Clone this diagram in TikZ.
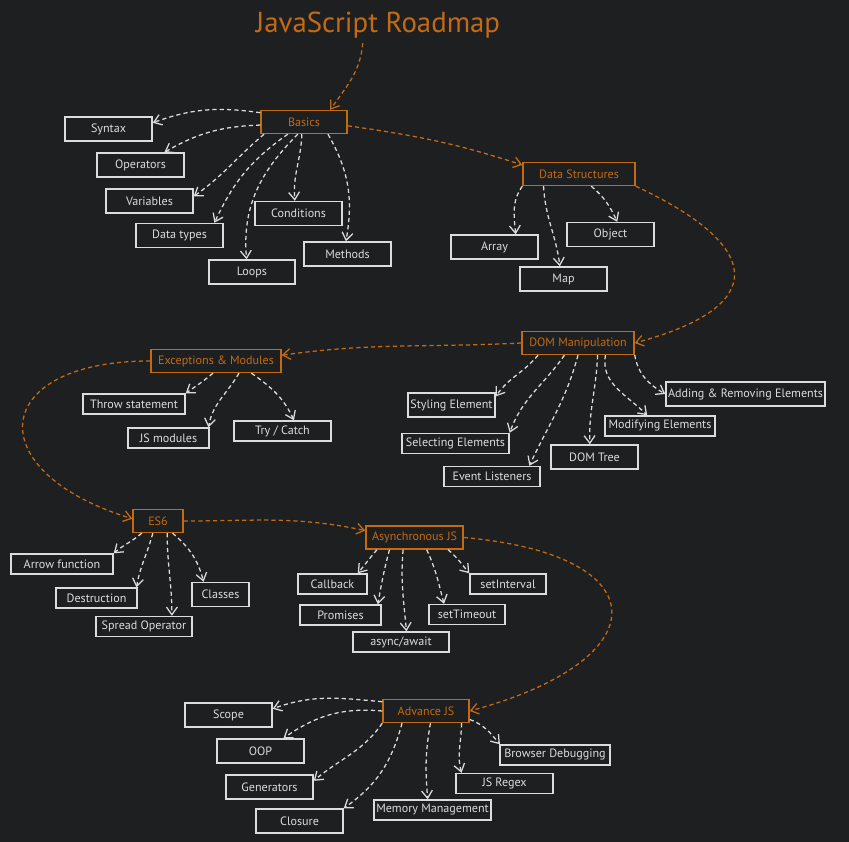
\documentclass[tikz,border=0pt]{standalone}
\usepackage{fontspec}
\setmainfont{PT Sans}
\usetikzlibrary{arrows.meta}
\definecolor{board}{HTML}{1E1F21}
\definecolor{amber}{HTML}{C46A12}
\definecolor{chalk}{HTML}{DCDCDC}

\begin{document}
\begin{tikzpicture}[x=0.025cm, y=0.025cm,
    topicbox/.style={draw=amber, text=amber, line width=1pt, minimum width=#1*0.025cm, minimum height=0.575cm, inner sep=1pt, font=\fontsize{8.6}{10}\selectfont},
    topicbox/.default=86,
    leafbox/.style={draw=chalk, text=chalk, line width=1pt, minimum width=#1*0.025cm, minimum height=0.6cm, inner sep=1pt, font=\fontsize{8.6}{10}\selectfont},
    leafbox/.default=87,
    tagbox/.style={leafbox=#1, minimum height=0.5cm},
    branch/.style={draw=chalk, line width=0.9pt, dash pattern=on 3pt off 2.2pt, -{Straight Barb[length=1.9mm,width=2.7mm]}},
    trunk/.style={branch, draw=amber}]
        % bakgrunnur
        \useasboundingbox (0,0) rectangle (849,842);
        \fill[board] (0,0) rectangle (849,842);
        % titill
        \node[text=amber, font=\fontsize{20.5}{24}\selectfont] (title) at (378,817) {JavaScript Roadmap};
        % basics
        \node[topicbox] (basics) at (304,720) {Basics};
        \node[leafbox] (syntax) at (108.5,713) {Syntax};
        \node[leafbox] (operators) at (140.5,677) {Operators};
        \node[leafbox] (variables) at (149.5,641) {Variables};
        \node[leafbox] (datatypes) at (179.5,606.5) {Data types};
        \node[leafbox=86] (loops) at (252,570) {Loops};
        \node[leafbox] (conditions) at (298.5,628.5) {Conditions};
        \node[leafbox] (methods) at (347.5,588) {Methods};
        % data structures
        \node[topicbox=112] (datastruct) at (579,668) {Data Structures};
        \node[leafbox] (array) at (494.5,595) {Array};
        \node[leafbox] (object) at (610.5,607.5) {Object};
        \node[leafbox] (map) at (563.5,563) {Map};
        % dom
        \node[topicbox=112] (dom) at (578,499) {DOM Manipulation};
        \node[leafbox] (styling) at (451.5,437) {Styling Element};
        \node[tagbox=107] (selecting) at (455.5,398.5) {Selecting Elements};
        \node[tagbox=96] (listeners) at (492,365.5) {Event Listeners};
        \node[leafbox] (domtree) at (594.5,385) {DOM Tree};
        \node[tagbox=110] (modifying) at (660,416) {Modifying Elements};
        \node[leafbox=159] (adding) at (745.5,448) {Adding \& Removing Elements};
        % exceptions
        \node[topicbox=130] (exceptions) at (216,481) {Exceptions \& Modules};
        \node[tagbox=102] (throw) at (134,438) {Throw statement};
        \node[tagbox=81] (modules) at (168.5,404) {JS modules};
        \node[tagbox=97] (trycatch) at (282.5,411) {Try / Catch};
        % es6
        \node[topicbox=50] (es6) at (158,321) {ES6};
        \node[tagbox=102] (arrowfn) at (62,278) {Arrow function};
        \node[tagbox=81] (destruct) at (96.5,244) {Destruction};
        \node[tagbox=96] (spread) at (144,215.5) {Spread Operator};
        \node[leafbox=57] (classes) at (220.5,247.5) {Classes};
        % async
        \node[topicbox=97] (async) at (414.5,304.5) {Asynchronous JS};
        \node[tagbox=69] (callback) at (332.5,258) {Callback};
        \node[tagbox=81] (promises) at (340.5,227) {Promises};
        \node[tagbox=96] (asyncawait) at (401,200) {async/await};
        \node[tagbox=76] (settimeout) at (467,227.5) {setTimeout};
        \node[tagbox=76] (setinterval) at (508,258) {setInterval};
        % advance
        \node[topicbox] (advance) at (426,131) {Advance JS};
        \node[leafbox] (scope) at (228.5,127) {Scope};
        \node[leafbox] (oop) at (260.5,91) {OOP};
        \node[leafbox] (generators) at (269.5,55) {Generators};
        \node[leafbox] (closure) at (299.5,21) {Closure};
        \node[tagbox=117] (memory) at (432.5,32) {Memory Management};
        \node[tagbox=97] (regex) at (504.5,58.5) {JS Regex};
        \node[tagbox=110] (browser) at (555,87) {Browser Debugging};
        % leidin
        \draw[trunk] ([xshift=-0.38cm]title.south) to[out=-95, in=55] (basics.25);
        \draw[trunk] (basics.-5) to[out=-8, in=162] (datastruct.171);
        \draw[trunk] (datastruct.south east) to[out=-25, in=15, looseness=2.3] (dom.east);
        \draw[trunk] (dom.west) to[out=183, in=8] (exceptions.5);
        \draw[trunk] (exceptions.west) to[out=180, in=163, looseness=2.6] (es6.175);
        \draw[trunk] (es6.east) to[out=0, in=168] (async.172);
        \draw[trunk] (async.east) to[out=-5, in=15, looseness=2.9] (advance.east);
        % basics greinar
        \draw[branch] (basics.168) to[out=172, in=20] (syntax.8);
        \draw[branch] (basics.184) to[out=182, in=30] (operators.28);
        \draw[branch] (basics.197.5) to[out=220, in=35] (variables.6.5);
        \draw[branch] (basics.217) to[out=215, in=65] (datatypes.20);
        \draw[branch] (basics.243) to[out=225, in=95] (loops.113);
        \draw[branch] (basics.260) to[out=-92, in=95] (conditions.106);
        \draw[branch] (basics.-27.5) to[out=-60, in=80] (methods.97);
        % data structures greinar
        \draw[branch] (datastruct.south west) to[out=235, in=95] (array.31.6);
        \draw[branch] (datastruct.199.5) to[out=-87, in=97] (map.106);
        \draw[branch] (datastruct.-45) to[out=-40, in=115] (object.62.5);
        % dom greinar
        \draw[branch] (dom.197.5) to[out=-130, in=55] (styling.11.7);
        \draw[branch] (dom.222.7) to[out=-125, in=70] (selecting.north east);
        \draw[branch] (dom.south) to[out=-105, in=65] (listeners.16.5);
        \draw[branch] (dom.-32.3) to[out=-92, in=92] (domtree.110);
        \draw[branch] (dom.-24) to[out=-100, in=135] (modifying.140);
        \draw[branch] (dom.-12.5) to[out=-80, in=150] (adding.west);
        % exceptions greinar
        \draw[branch] (exceptions.256) to[out=-140, in=35] (throw.north east);
        \draw[branch] (exceptions.-28.6) to[out=-120, in=80] (modules.15);
        \draw[branch] (exceptions.-19) to[out=-35, in=115] (trycatch.43.6);
        % es6 greinar
        \draw[branch] (es6.217) to[out=-140, in=40] (arrowfn.north east);
        \draw[branch] (es6.247) to[out=-105, in=80] (destruct.15);
        \draw[branch] (es6.-53) to[out=-90, in=90] (spread.21.6);
        \draw[branch] (es6.-40.6) to[out=-40, in=105] (classes.143.4);
        % async greinar
        \draw[branch] (async.198) to[out=-130, in=50] (callback.23.3);
        \draw[branch] (async.206) to[out=-105, in=80] (promises.16.2);
        \draw[branch] (async.227.6) to[out=-95, in=95] (asyncawait.63.4);
        \draw[branch] (async.-45) to[out=-65, in=105] (settimeout.155.7);
        \draw[branch] (async.-20.7) to[out=-40, in=130] (setinterval.north west);
        % advance greinar
        \draw[branch] (advance.168) to[out=175, in=20] (scope.8);
        \draw[branch] (advance.west) to[out=175, in=35] (oop.29);
        \draw[branch] (advance.south west) to[out=-125, in=40] (generators.8);
        \draw[branch] (advance.207.6) to[out=-105, in=35] (closure.north east);
        \draw[branch] (advance.-70) to[out=-100, in=95] (memory.114);
        \draw[branch] (advance.-19) to[out=-90, in=105] (regex.166);
        \draw[branch] (advance.-11.8) to[out=-20, in=130] (browser.169);
    \end{tikzpicture}
\end{document}
